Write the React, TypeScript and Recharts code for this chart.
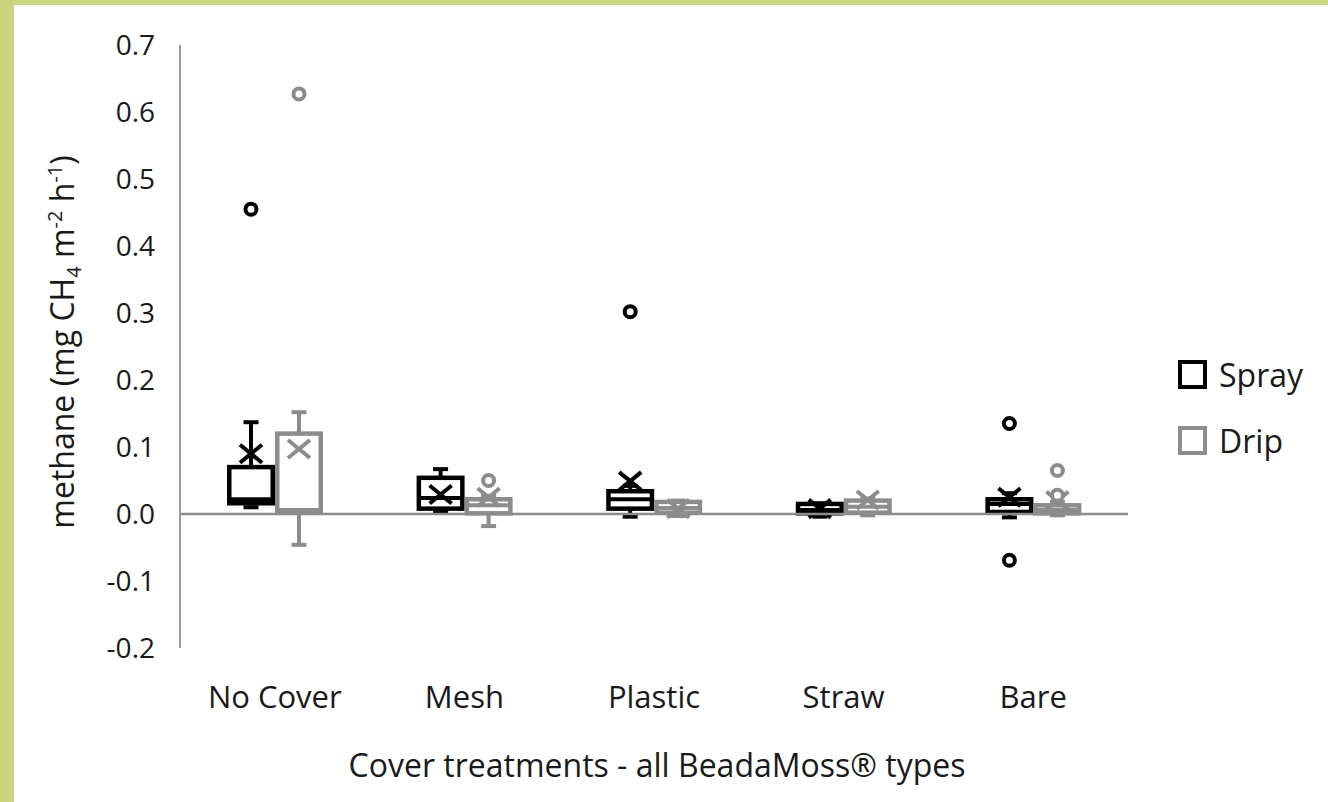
import React from 'react';
import { ComposedChart, Bar, XAxis, YAxis, ReferenceLine, Legend } from 'recharts';

const categories = ['No Cover', 'Mesh', 'Plastic', 'Straw', 'Bare'];

// Spray (black) box statistics per category
const sprayWhiskerLow = [0.01, 0.003, -0.004, -0.004, -0.005];
const sprayQ1 = [0.016, 0.008, 0.008, 0.001, 0.003];
const sprayMedian = [0.022, 0.024, 0.022, 0.006, 0.015];
const sprayQ3 = [0.07, 0.054, 0.034, 0.015, 0.022];
const sprayWhiskerHigh = [0.137, 0.067, 0.042, 0.016, 0.031];
const sprayMean = [0.09, 0.029, 0.049, 0.008, 0.025];
const sprayOutliers = [[0.455], [], [0.302], [], [0.135, -0.069]];

// Drip (grey) box statistics per category
const dripWhiskerLow = [-0.046, -0.018, -0.003, -0.002, -0.002];
const dripQ1 = [0.002, 0.001, 0.002, 0.002, 0.001];
const dripMedian = [0.006, 0.013, 0.009, 0.011, 0.006];
const dripQ3 = [0.12, 0.022, 0.018, 0.02, 0.013];
const dripWhiskerHigh = [0.152, 0.027, 0.02, 0.023, 0.018];
const dripMean = [0.097, 0.025, 0.008, 0.021, 0.02];
const dripOutliers = [[0.627], [0.05], [], [], [0.065, 0.028]];

const yTicks = [-0.2, -0.1, 0, 0.1, 0.2, 0.3, 0.4, 0.5, 0.6, 0.7];

const seriesNames = ['Spray', 'Drip'];
const SPRAY = '#000000';
const DRIP = '#8c8c8c';
const FONT = '"Open Sans", sans-serif';
const TEXT = '#1a1a1a';

type Stats = { lo: number; hi: number; wl: number; q1: number; med: number; q3: number; wh: number; mean: number; out: number[] };

const buildStats = (wl: number[], q1: number[], med: number[], q3: number[], wh: number[], mean: number[], out: number[][], i: number): Stats => {
  const all = [wl[i], q1[i], med[i], q3[i], wh[i], mean[i], ...out[i]];
  return { lo: Math.min(...all), hi: Math.max(...all), wl: wl[i], q1: q1[i], med: med[i], q3: q3[i], wh: wh[i], mean: mean[i], out: out[i] };
};

const data = categories.map((name, i) => {
  const spray = buildStats(sprayWhiskerLow, sprayQ1, sprayMedian, sprayQ3, sprayWhiskerHigh, sprayMean, sprayOutliers, i);
  const drip = buildStats(dripWhiskerLow, dripQ1, dripMedian, dripQ3, dripWhiskerHigh, dripMean, dripOutliers, i);
  return { name, spray, drip, sprayRange: [spray.lo, spray.hi], dripRange: [drip.lo, drip.hi] };
});

const SW = 4.5;

const makeBox = (key: 'spray' | 'drip', color: string) => (props: any) => {
  const { x, y, width, height, payload } = props;
  const s: Stats = payload[key];
  const top = Math.min(y, y + height);
  const h = Math.abs(height);
  const span = s.hi - s.lo || 1;
  const pix = (v: number) => top + ((s.hi - v) / span) * h;
  const cx = x + width / 2;
  const bx = x + SW / 2;
  const bw = width - SW;
  const yq1 = pix(s.q1);
  const yq3 = pix(s.q3);
  const cap = 7.5;
  const my = pix(s.mean);
  return (
    <g>
      <line x1={cx} x2={cx} y1={yq3} y2={pix(s.wh)} stroke={color} strokeWidth={4} />
      <line x1={cx} x2={cx} y1={yq1} y2={pix(s.wl)} stroke={color} strokeWidth={4} />
      <line x1={cx - cap} x2={cx + cap} y1={pix(s.wh)} y2={pix(s.wh)} stroke={color} strokeWidth={4} />
      <line x1={cx - cap} x2={cx + cap} y1={pix(s.wl)} y2={pix(s.wl)} stroke={color} strokeWidth={4} />
      <rect x={bx} y={yq3} width={bw} height={Math.max(yq1 - yq3, 0.1)} fill="#ffffff" stroke={color} strokeWidth={SW} />
      <line x1={bx} x2={bx + bw} y1={pix(s.med)} y2={pix(s.med)} stroke={color} strokeWidth={4} />
      <line x1={cx - 11} x2={cx + 11} y1={my - 9} y2={my + 9} stroke={color} strokeWidth={4} />
      <line x1={cx - 11} x2={cx + 11} y1={my + 9} y2={my - 9} stroke={color} strokeWidth={4} />
      {s.out.map((v, k) => (
        <circle key={k} cx={cx} cy={pix(v)} r={5.5} fill="#ffffff" stroke={color} strokeWidth={4} />
      ))}
    </g>
  );
};

const YLabel = () => {
  const cx = 60;
  const cy = 337;
  return (
    <text x={cx} y={cy} transform={`rotate(-90 ${cx} ${cy})`} textAnchor="middle" fontFamily={FONT} fontSize={32} fill={TEXT}>
      <tspan>methane (mg CH</tspan>
      <tspan fontSize={20} dy={7}>4</tspan>
      <tspan dy={-7}> m</tspan>
      <tspan fontSize={20} dy={-12}>-2</tspan>
      <tspan dy={12}> h</tspan>
      <tspan fontSize={20} dy={-12}>-1</tspan>
      <tspan dy={12}>)</tspan>
    </text>
  );
};

const LegendContent = () => (
  <div style={{ fontFamily: FONT, fontSize: 32, color: TEXT }}>
    {seriesNames.map((n, i) => (
      <div key={n} style={{ display: 'flex', alignItems: 'center', height: 66 }}>
        <div style={{ width: 21, height: 21, border: `4px solid ${i === 0 ? SPRAY : DRIP}`, background: '#fff', marginRight: 12 }} />
        <span>{n}</span>
      </div>
    ))}
  </div>
);

export default function App() {
  return (
    <div style={{ position: 'absolute', left: 0, top: 0, width: 1328, height: 802, background: '#c9d57f' }}>
      <div style={{ position: 'absolute', left: 14, top: 5, width: 1314, height: 797, background: '#ffffff' }}>
        <ComposedChart width={1314} height={797} data={data} margin={{ top: 40, right: 200, left: 0, bottom: 0 }} barGap={0} barSize={48}>
          <XAxis dataKey="name" axisLine={false} tickLine={false} tickSize={0} tickMargin={38} height={154}
            tick={{ fontFamily: FONT, fontSize: 31, fill: TEXT }} interval={0} />
          <YAxis type="number" domain={[-0.2, 0.7]} ticks={yTicks} width={166} tickLine={false} tickSize={0} tickMargin={25}
            axisLine={{ stroke: '#9a9a9a', strokeWidth: 2 }} tickFormatter={(v: number) => v.toFixed(1)}
            tick={{ fontFamily: FONT, fontSize: 28, fill: TEXT }} allowDataOverflow />
          <ReferenceLine y={0} stroke="#8c8c8c" strokeWidth={2.5} />
          <Bar dataKey="sprayRange" name="Spray" fill={SPRAY} shape={makeBox('spray', SPRAY)} isAnimationActive={false} />
          <Bar dataKey="dripRange" name="Drip" fill={DRIP} shape={makeBox('drip', DRIP)} isAnimationActive={false} />
          <Legend layout="vertical" verticalAlign="middle" align="center" content={LegendContent}
            wrapperStyle={{ left: 1164, top: 336, width: 150, height: 132 }} />
          <text x={643} y={772} textAnchor="middle" fontFamily={FONT} fontSize={32} fill={TEXT}>Cover treatments - all BeadaMoss® types</text>
          <YLabel />
        </ComposedChart>
      </div>
    </div>
  );
}
